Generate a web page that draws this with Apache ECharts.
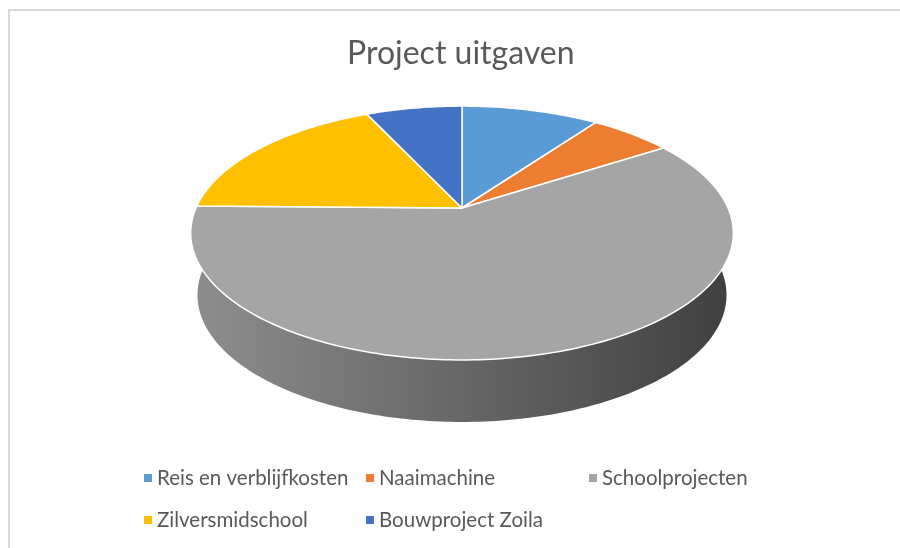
<!DOCTYPE html>
<html>
<head>
<meta charset="utf-8">
<script src="https://cdn.jsdelivr.net/npm/echarts@6/dist/echarts.min.js"></script>
<style>
  html, body { margin: 0; padding: 0; background: #fff; }
  #wrap { position: relative; width: 900px; height: 548px; }
  #chart { width: 900px; height: 548px; }
  /* Excel-kader: alleen boven- en linkerrand zichtbaar in de uitsnede */
  #frame { position: absolute; left: 8px; top: 9px; right: 0; bottom: 0;
           border-top: 2px solid #d9d9d9; border-left: 2px solid #d9d9d9; pointer-events: none; }
</style>
</head>
<body>
<div id="wrap"><div id="chart"></div><div id="frame"></div></div>
<script>
const names = ['Reis en verblijfkosten', 'Naaimachine', 'Schoolprojecten', 'Zilversmidschool', 'Bouwproject Zoila'];
const values = [1000, 600, 6000, 1800, 700];
const colors = ['#5B9BD5', '#ED7D31', '#A5A5A5', '#FFC000', '#4472C4'];

// geometrie van de 3D-taart: middelpunt, perspectief en dikte
const GEO = { cx: 462, cy: 208, a: 266, b: 122, e: 0.197, depth: 62, shrink: 0.975 };
const FONT = 'Lato, "Noto Sans", sans-serif';
const TEXT = '#595959';

const total = values.reduce((s, v) => s + v, 0);

// hoek in graden, met de klok mee vanaf 12 uur -> schermpunt op boven- of ondervlak
function project(deg, bottom) {
  const t = deg * Math.PI / 180;
  const u = Math.sin(t), v = -Math.cos(t);
  const den = 1 - GEO.e * v;
  const k = bottom ? GEO.shrink : 1;
  return [GEO.cx + k * GEO.a * u / den, GEO.cy + GEO.b * v / den + (bottom ? GEO.depth : 0)];
}

function arc(from, to, bottom) {
  const n = Math.max(2, Math.ceil(to - from));
  const pts = [];
  for (let j = 0; j <= n; j++) pts.push(project(from + (to - from) * j / n, bottom));
  return pts;
}

function shade(hex, f) {
  const n = parseInt(hex.slice(1), 16);
  const c = [(n >> 16) & 255, (n >> 8) & 255, n & 255].map(x => Math.round(x * f));
  return `rgb(${c.join(',')})`;
}

function renderSlice(params, api) {
  const i = params.seriesIndex;
  const before = values.slice(0, i).reduce((s, v) => s + v, 0);
  const a0 = before / total * 360;
  const a1 = (before + api.value(0)) / total * 360;
  const topArc = arc(a0, a1, false);
  const botArc = arc(a0, a1, true).reverse();
  const mid = (a0 + a1) / 2 * Math.PI / 180;
  const side = new echarts.graphic.LinearGradient(GEO.cx - 272, 0, GEO.cx + 272, 0, [
    { offset: 0, color: shade(colors[i], 0.86) },
    { offset: 1, color: shade(colors[i], 0.38) },
  ], true);
  return {
    type: 'group',
    children: [
      {
        type: 'polygon', z2: 5 - Math.cos(mid),
        shape: { points: topArc.concat(botArc) },
        style: { fill: side },
      },
      {
        type: 'polygon', z2: 10,
        shape: { points: [[GEO.cx, GEO.cy]].concat(topArc) },
        style: { fill: colors[i], stroke: '#fff', lineWidth: 1.5, lineJoin: 'round' },
      },
    ],
  };
}

const chart = echarts.init(document.getElementById('chart'), null, { renderer: 'canvas' });

const legendBase = {
  orient: 'vertical', top: 461, itemGap: 18, itemWidth: 8, itemHeight: 8, icon: 'rect',
  selectedMode: false,
  textStyle: { fontFamily: FONT, fontSize: 20.5, color: TEXT, lineHeight: 24 },
};

chart.setOption({
  animation: false,
  backgroundColor: 'transparent',
  title: {
    text: 'Project uitgaven', left: 342, top: 33,
    textStyle: { fontFamily: FONT, fontSize: 32, fontWeight: 'normal', color: TEXT },
  },
  legend: [
    { ...legendBase, left: 139, data: [names[0], names[3]] },
    { ...legendBase, left: 361, data: [names[1], names[4]] },
    { ...legendBase, left: 584, data: [names[2]] },
  ],
  series: names.map((name, i) => ({
    name, type: 'custom', coordinateSystem: 'none',
    itemStyle: { color: colors[i] },
    data: [values[i]],
    renderItem: renderSlice,
  })),
});
</script>
</body>
</html>
